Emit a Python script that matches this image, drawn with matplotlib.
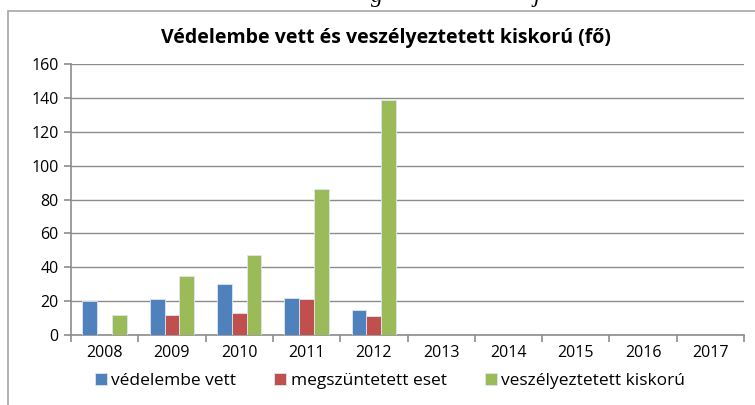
import numpy as np
import matplotlib
matplotlib.use("Agg")
import matplotlib.pyplot as plt
from matplotlib.patches import Rectangle

years = ["2008", "2009", "2010", "2011", "2012", "2013", "2014", "2015", "2016", "2017"]
vedelembe = [20, 21, 30, 22, 15, np.nan, np.nan, np.nan, np.nan, np.nan]
megszuntetett = [0, 12, 13, 21, 11, np.nan, np.nan, np.nan, np.nan, np.nan]
veszelyeztetett = [12, 35, 47, 86, 139, np.nan, np.nan, np.nan, np.nan, np.nan]
series_names = ["védelembe vett", "megszüntetett eset", "veszélyeztetett kiskorú"]
colors = ["#4F81BD", "#C0504D", "#9BBB59"]

W, H = 755, 405
plt.rcParams["font.family"] = ["Open Sans", "DejaVu Sans"]

fig = plt.figure(figsize=(W / 100, H / 100), dpi=100)
fig.patch.set_facecolor("white")

# chart frame (continues past the image edge)
fig.patches.append(Rectangle((8 / W, -0.1), 1.2, (H - 11) / H + 0.1, transform=fig.transFigure,
                             fill=False, edgecolor="#a6a6a6", lw=1.2))
# descenders of the document line above the chart
fig.text(377 / W, 1 - 2 / H, "g", family="Liberation Serif", style="italic", fontsize=17,
         ha="center", va="baseline")
fig.text(537 / W, 1 - 2 / H, "j", family="Liberation Serif", style="italic", fontsize=17,
         ha="center", va="baseline")

ax = fig.add_axes([71 / W, 1 - 335 / H, (744 - 71) / W, (335 - 64) / H])
x = np.arange(len(years))
bw = 0.22
for k, (vals, c, name) in enumerate(zip([vedelembe, megszuntetett, veszelyeztetett], colors, series_names)):
    ax.bar(x + (k - 1) * bw, vals, bw, color=c, edgecolor="#dde6f0", lw=0.6, label=name, zorder=3)

ax.set_xlim(-0.5, len(years) - 0.5)
ax.set_ylim(0, 160)
ax.set_yticks(range(0, 161, 20))
ax.yaxis.grid(True, color="#8c8c8c", lw=1.0, zorder=0)
ax.set_axisbelow(True)
for s in ["top", "right"]:
    ax.spines[s].set_visible(False)
for s in ["left", "bottom"]:
    ax.spines[s].set_color("#8c8c8c")
    ax.spines[s].set_linewidth(1.2)

ax.set_xticks(np.arange(-0.5, len(years), 1.0))
ax.set_xticklabels([])
ax.set_xticks(x, minor=True)
ax.set_xticklabels(years, minor=True)
ax.tick_params(axis="x", which="major", length=5, color="#8c8c8c", width=1.2)
ax.tick_params(axis="x", which="minor", length=0, pad=7, labelsize=11.5)
ax.tick_params(axis="y", length=5, color="#8c8c8c", width=1.2, labelsize=11.5, pad=4)

fig.text(386 / W, 1 - 38 / H, "Védelembe vett és veszélyeztetett kiskorú (fő)",
         ha="center", va="center", fontsize=14, fontweight="bold")

fig.legend(loc="center", bbox_to_anchor=(390 / W, 1 - 381 / H), ncol=3, frameon=False,
           fontsize=12.5, handlelength=0.7, handleheight=0.7, handletextpad=0.25,
           columnspacing=2.2)

fig.savefig("out.png", dpi=100, facecolor="white")
